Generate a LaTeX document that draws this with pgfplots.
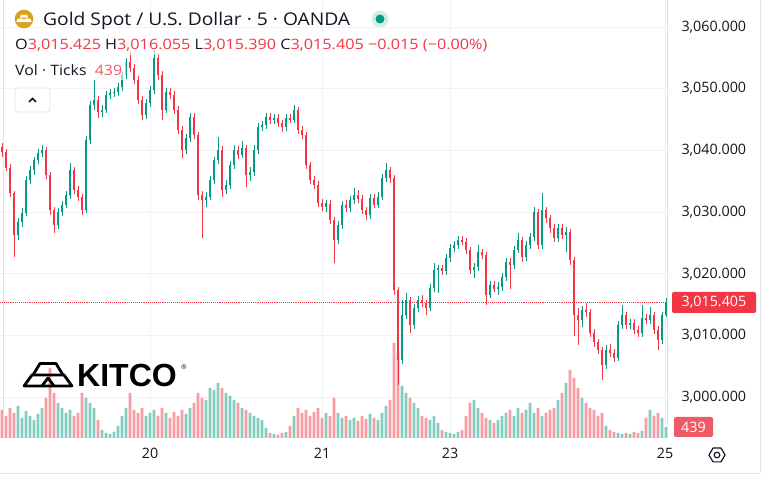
\documentclass[border=0pt]{standalone}
\usepackage{graphicx}
\usepackage{pgfplots}
\pgfplotsset{compat=1.18}
\usepackage{pgfplotstable}
\usepackage{fontspec}
\setmainfont{Open Sans}
\newfontfamily\logofont{Liberation Sans}
\definecolor{upc}{HTML}{089981}
\definecolor{dnc}{HTML}{F23645}
\definecolor{upv}{HTML}{84CCC0}
\definecolor{dnv}{HTML}{F89BA2}
\definecolor{gridc}{HTML}{F0F3FA}
\definecolor{txt}{HTML}{131722}
\definecolor{bordc}{HTML}{E0E3EB}
\definecolor{goldc}{HTML}{D9A11E}
\definecolor{vollab}{HTML}{F05A66}

\pgfplotstableread{
x o c h l v
2 3040.5 3039.7 3041.2 3039.0 1120
6 3039.7 3037.2 3040.2 3036.6 880
10 3037.2 3033.1 3037.8 3032.5 1200
14 3033.1 3026.3 3033.5 3022.7 1000
18 3026.3 3028.4 3029.0 3025.5 1280
22 3028.4 3029.9 3030.6 3027.6 800
26 3029.9 3035.2 3035.9 3029.3 1080
30 3035.2 3036.8 3037.5 3034.6 880
34 3036.8 3038.4 3039.0 3036.1 720
38 3038.4 3039.6 3040.2 3037.8 960
42 3039.6 3040.1 3040.9 3038.9 1200
46 3040.1 3036.0 3040.6 3035.3 1600
50 3036.0 3030.3 3036.5 3029.6 2800
54 3030.3 3027.9 3030.9 3026.6 1800
58 3027.9 3030.0 3030.7 3027.2 1400
62 3030.0 3031.2 3031.8 3029.4 1200
66 3031.2 3032.8 3033.4 3030.6 1000
70 3032.8 3036.8 3038.0 3032.2 1120
74 3036.8 3033.6 3037.3 3033.0 880
78 3033.6 3032.5 3034.2 3031.8 1000
82 3032.5 3030.3 3033.0 3029.5 1800
86 3030.3 3041.7 3042.3 3029.8 1600
90 3041.7 3047.4 3048.0 3041.0 1400
94 3047.4 3048.2 3051.4 3046.6 1200
98 3048.2 3046.2 3048.8 3045.3 720
102 3046.2 3046.6 3047.3 3045.5 320
106 3046.6 3049.0 3049.6 3046.0 200
110 3049.0 3049.3 3049.9 3048.4 160
114 3049.3 3049.5 3050.1 3048.7 240
118 3049.5 3050.3 3051.0 3048.9 480
122 3050.3 3052.2 3052.9 3049.7 880
126 3052.2 3054.3 3055.0 3051.6 1200
130 3054.3 3053.4 3056.0 3052.7 1800
134 3053.4 3051.4 3054.0 3050.8 1120
138 3051.4 3048.2 3052.0 3047.5 1000
142 3048.2 3045.7 3048.8 3045.0 1200
146 3045.7 3047.7 3048.4 3045.1 880
150 3047.7 3049.8 3050.4 3047.1 1000
154 3049.8 3055.0 3056.3 3049.2 1120
158 3055.0 3052.2 3055.6 3051.5 880
162 3052.2 3046.6 3052.8 3044.9 1200
166 3046.6 3049.5 3050.1 3046.0 1000
170 3049.5 3049.0 3050.2 3048.3 800
174 3049.0 3046.6 3049.6 3045.9 1040
178 3046.6 3043.3 3047.2 3042.6 880
182 3043.3 3040.1 3043.9 3038.8 1120
186 3040.1 3042.0 3042.7 3039.5 960
190 3042.0 3045.4 3046.0 3041.4 1200
194 3045.4 3042.5 3046.0 3041.9 1400
198 3042.5 3032.8 3043.0 3031.9 1800
202 3032.8 3032.0 3033.5 3025.8 1600
206 3032.0 3032.5 3033.2 3030.8 1520
210 3032.5 3035.2 3035.9 3031.9 2000
214 3035.2 3038.4 3039.0 3034.6 1920
218 3038.4 3040.1 3042.2 3037.8 2200
222 3040.1 3033.6 3040.7 3032.4 2000
226 3033.6 3034.4 3035.2 3032.9 1800
230 3034.4 3037.6 3038.3 3033.8 1680
234 3037.6 3040.1 3040.8 3037.0 1520
238 3040.1 3039.3 3040.8 3038.6 1400
242 3039.3 3040.4 3041.6 3038.7 1200
246 3040.4 3036.0 3040.9 3034.1 1120
250 3036.0 3036.5 3037.3 3035.0 1000
254 3036.5 3040.1 3040.8 3035.9 880
258 3040.1 3043.8 3044.5 3039.5 800
262 3043.8 3044.1 3044.8 3043.1 720
266 3044.1 3045.4 3046.0 3043.5 400
270 3045.4 3044.9 3046.0 3044.3 200
274 3044.9 3045.3 3045.9 3044.3 160
278 3045.3 3044.4 3045.9 3043.8 120
282 3044.4 3043.8 3045.0 3043.0 200
286 3043.8 3045.3 3045.9 3043.2 240
290 3045.3 3045.0 3045.9 3044.5 480
294 3045.0 3046.6 3047.4 3044.5 880
298 3046.6 3043.3 3047.1 3042.7 1200
302 3043.3 3042.5 3043.9 3041.8 1000
306 3042.5 3037.6 3043.0 3037.0 1120
310 3037.6 3035.2 3038.2 3034.5 880
314 3035.2 3034.4 3035.8 3033.7 1040
318 3034.4 3031.5 3035.0 3030.8 1200
322 3031.5 3030.8 3032.1 3030.1 800
326 3030.8 3031.4 3032.0 3030.1 1000
330 3031.4 3028.7 3032.0 3028.0 880
334 3028.7 3025.5 3029.2 3021.8 1600
338 3025.5 3027.9 3028.5 3024.8 1000
342 3027.9 3031.2 3031.8 3027.3 800
346 3031.2 3030.7 3031.9 3030.0 880
350 3030.7 3032.0 3032.7 3030.1 720
354 3032.0 3032.8 3033.9 3031.4 800
358 3032.8 3032.2 3033.6 3031.5 680
362 3032.2 3030.3 3032.8 3029.7 880
366 3030.3 3029.5 3030.9 3028.8 760
370 3029.5 3032.3 3032.9 3028.9 960
374 3032.3 3031.2 3032.9 3030.6 800
378 3031.2 3032.5 3033.2 3030.6 720
382 3032.5 3035.5 3036.1 3031.9 1000
386 3035.5 3036.8 3038.0 3034.9 1280
390 3036.8 3035.5 3037.4 3034.7 1520
394 3035.5 3017.4 3036.0 3016.6 3800
398 3017.4 3006.0 3017.9 3002.0 3400
402 3006.0 3013.3 3015.8 3005.4 2080
406 3013.3 3015.8 3016.9 3012.7 1800
410 3015.8 3011.7 3016.3 3010.4 1600
414 3011.7 3014.5 3015.1 3011.1 1400
418 3014.5 3015.8 3016.4 3013.9 1200
422 3015.8 3015.2 3016.5 3014.6 880
426 3015.2 3014.5 3015.8 3013.4 800
430 3014.5 3017.7 3018.3 3013.9 720
434 3017.7 3020.6 3021.7 3017.1 880
438 3020.6 3020.9 3021.5 3016.9 600
442 3020.9 3020.4 3021.5 3019.8 320
446 3020.4 3022.6 3023.2 3019.8 240
450 3022.6 3024.2 3024.8 3022.0 200
454 3024.2 3024.7 3025.3 3023.6 160
458 3024.7 3025.5 3026.2 3024.1 240
462 3025.5 3025.2 3026.1 3024.6 320
466 3025.2 3023.9 3025.8 3023.3 880
470 3023.9 3020.6 3024.4 3019.9 1400
474 3020.6 3021.1 3021.7 3019.3 1520
478 3021.1 3023.5 3024.6 3020.5 1200
482 3023.5 3023.1 3024.1 3022.4 1000
486 3023.1 3016.6 3023.6 3014.9 800
490 3016.6 3018.2 3018.8 3016.0 720
494 3018.2 3017.6 3018.9 3017.0 600
498 3017.6 3017.9 3018.6 3016.5 720
502 3017.9 3019.5 3020.1 3017.3 880
506 3019.5 3021.9 3022.5 3018.9 1000
510 3021.9 3021.4 3022.5 3017.5 1120
514 3021.4 3023.9 3024.5 3020.8 880
518 3023.9 3025.5 3026.6 3023.3 1200
522 3025.5 3022.7 3026.0 3022.0 1000
526 3022.7 3024.7 3025.3 3022.1 1120
530 3024.7 3026.0 3026.7 3024.1 1400
534 3026.0 3030.0 3030.8 3025.4 1000
538 3030.0 3024.7 3030.5 3024.0 1200
542 3024.7 3030.3 3033.1 3024.1 880
546 3030.3 3029.0 3030.9 3028.3 1000
550 3029.0 3027.4 3029.6 3026.7 1120
554 3027.4 3025.8 3028.0 3025.1 1200
558 3025.8 3027.4 3028.1 3025.2 1520
562 3027.4 3026.3 3028.0 3025.6 1800
566 3026.3 3026.8 3027.6 3023.5 2200
570 3026.8 3022.2 3027.3 3021.5 2720
574 3022.2 3013.3 3022.7 3010.0 2400
578 3013.3 3012.5 3014.5 3008.5 2000
582 3012.5 3014.1 3014.8 3011.3 1600
586 3014.1 3013.8 3015.2 3013.0 1400
590 3013.8 3010.4 3014.3 3009.7 1200
594 3010.4 3008.9 3011.0 3008.2 1120
598 3008.9 3007.7 3009.5 3007.0 880
602 3007.7 3005.2 3008.2 3002.8 1000
606 3005.2 3007.7 3008.4 3004.6 480
610 3007.7 3007.2 3008.6 3006.5 320
614 3007.2 3006.4 3007.9 3005.7 240
618 3006.4 3011.7 3012.4 3005.8 200
622 3011.7 3013.3 3014.9 3011.1 160
626 3013.3 3011.7 3013.9 3011.0 200
630 3011.7 3012.0 3012.7 3011.1 160
634 3012.0 3010.9 3012.6 3010.2 240
638 3010.9 3010.4 3011.5 3009.7 200
642 3010.4 3012.8 3015.0 3009.8 280
646 3012.8 3012.5 3013.5 3011.8 800
650 3012.5 3013.3 3014.6 3011.9 1120
654 3013.3 3010.9 3013.9 3010.2 880
658 3010.9 3009.3 3011.5 3007.7 1000
662 3009.3 3013.3 3013.9 3008.7 800
666 3013.3 3015.405 3016.055 3013.0 439
}\candles

\pgfplotsset{
  chartbase/.style={at={(0pt,40pt)}, anchor=south west, width=667pt, height=438pt,
    scale only axis, xmin=0, xmax=667},
  pricey/.style={ymin=2993.39, ymax=3064.38},
  candle/.style={draw=none, mark=none, forget plot, error bars/.cd, y dir=both, y explicit, error mark=none,
    error bar style={#1}},
}

\begin{document}
\begin{tikzpicture}[x=1pt,y=1pt]
\useasboundingbox (0,0) rectangle (775,478);
\fill[white] (0,0) rectangle (775,478);

% grid + tick labels
\begin{axis}[chartbase, pricey,
  axis line style={draw=none}, major tick length=0pt,
  xtick={150,322,450,665}, xticklabels={20,21,23,25},
  ytick={3000,3010,3020,3030,3040,3050,3060},
  grid=major, major grid style={draw=gridc, line width=0.8pt},
  yticklabel pos=right, scaled y ticks=false,
  yticklabel style={font=\fontsize{14.3}{16}\selectfont, color=txt, anchor=west, xshift=11pt,
    /pgf/number format/.cd, fixed, fixed zerofill, precision=3, 1000 sep={,}, assume math mode=true},
  xticklabel style={font=\fontsize{14.3}{16}\selectfont, color=txt, yshift=-7pt},
]
\addplot[draw=none] coordinates {(0,3000) (667,3000)};
\end{axis}

% volume
\begin{axis}[chartbase, ymin=0, ymax=17520, hide axis]
\addplot[ybar, bar width=2.8pt, bar shift=0pt, fill=upv, draw=none]
  table[x=x, y expr={\thisrow{c}<\thisrow{o} ? 0 : \thisrow{v}}]{\candles};
\addplot[ybar, bar width=2.8pt, bar shift=0pt, fill=dnv, draw=none]
  table[x=x, y expr={\thisrow{c}<\thisrow{o} ? \thisrow{v} : 0}]{\candles};
\end{axis}

% candles
\begin{axis}[chartbase, pricey, hide axis]
\addplot[dnc, densely dotted, line width=0.9pt] coordinates {(0,3015.405) (667,3015.405)};
\addplot[candle={draw=upc, line width=0.8pt}]
  table[x=x, y expr={(\thisrow{h}+\thisrow{l})/2},
    y error expr={\thisrow{c}<\thisrow{o} ? 0 : (\thisrow{h}-\thisrow{l})/2}]{\candles};
\addplot[candle={draw=dnc, line width=0.8pt}]
  table[x=x, y expr={(\thisrow{h}+\thisrow{l})/2},
    y error expr={\thisrow{c}<\thisrow{o} ? (\thisrow{h}-\thisrow{l})/2 : 0}]{\candles};
\addplot[candle={draw=upc, line width=2.8pt}]
  table[x=x, y expr={(\thisrow{o}+\thisrow{c})/2},
    y error expr={\thisrow{c}<\thisrow{o} ? 0 : max((\thisrow{c}-\thisrow{o})/2,0.08)}]{\candles};
\addplot[candle={draw=dnc, line width=2.8pt}]
  table[x=x, y expr={(\thisrow{o}+\thisrow{c})/2},
    y error expr={\thisrow{c}<\thisrow{o} ? max((\thisrow{o}-\thisrow{c})/2,0.08) : 0}]{\candles};
\end{axis}

% borders
\draw[bordc, line width=0.8pt] (3,40) -- (3,478);
\draw[bordc, line width=0.8pt] (667,40) -- (667,478);
\draw[bordc, line width=0.8pt] (760,5) -- (760,478);
\draw[bordc, line width=0.8pt] (0,5) -- (760,5);

% header
\fill[white, opacity=0.6] (12,423) rectangle (492,441);
\fill[white, opacity=0.6] (12,398) rectangle (126,416);
\fill[goldc] (24,459) circle (9.3);
\fill[white] (21,463) -- (27,463) -- (28.2,460.3) -- (19.8,460.3) -- cycle;
\fill[white] (17.5,459.3) -- (23.2,459.3) -- (24.2,455.8) -- (16.3,455.8) -- cycle;
\fill[white] (24.8,459.3) -- (30.5,459.3) -- (31.7,455.8) -- (23.8,455.8) -- cycle;
\node[anchor=base west, inner sep=0pt, text=txt, font=\fontsize{17.5}{20}\selectfont] at (43,452) {\scalebox{1.1}[1]{Gold Spot / U.S. Dollar · 5 · OANDA}};
\fill[upc!18] (380,459) circle (8.5);
\fill[upc] (380,459) circle (4.5);
\node[anchor=base west, inner sep=0pt, font=\fontsize{14.3}{16}\selectfont] at (15,428.7)
  {\scalebox{1.134}[1]{\textcolor{txt}{O}\textcolor{dnc}{3,015.425} \textcolor{txt}{H}\textcolor{dnc}{3,016.055} \textcolor{txt}{L}\textcolor{dnc}{3,015.390} \textcolor{txt}{C}\textcolor{dnc}{3,015.405} \textcolor{dnc}{−0.015 (−0.00\%)}}};
\node[anchor=base west, inner sep=0pt, font=\fontsize{14.3}{16}\selectfont] at (15,402)
  {\scalebox{1.11}[1]{\textcolor{txt}{Vol · Ticks}\ \ \textcolor{vollab}{439}}};
\draw[bordc, line width=0.8pt, fill=white, rounded corners=3pt] (15,366) rectangle (50,390);
\draw[txt, line width=1.5pt] (29,376) -- (32.5,379.5) -- (36,376);

% KITCO logo
\begin{scope}[line width=2.8pt, line join=round]
\draw (24,92) -- (32,103) -- (64,103) -- (72,92) -- cycle;
\draw (33,103) -- (40,114.5) -- (56,114.5) -- (63,103);
\draw (42,92) -- (48,100) -- (54,92);
\end{scope}
\node[anchor=base west, inner sep=0pt, font=\logofont\bfseries\fontsize{32}{34}\selectfont] at (77,91) {KITCO};
\node[anchor=center, inner sep=0pt, font=\logofont\fontsize{7}{8}\selectfont] at (184,111) {®};

% price labels
\fill[dnc, rounded corners=2pt] (672,165) rectangle (756,186);
\node[text=white, font=\fontsize{14.3}{16}\selectfont] at (714,175.5) {3,015.405};
\fill[vollab, rounded corners=2pt] (674,41) rectangle (713,61);
\node[text=white, font=\fontsize{14.3}{16}\selectfont] at (693.5,51) {439};

% settings icon
\draw[txt, line width=1.2pt, line join=round] (725,23) -- (721,29.9) -- (713,29.9) -- (709,23) -- (713,16.1) -- (721,16.1) -- cycle;
\draw[txt, line width=1.2pt] (717,23) circle (2.8);
\end{tikzpicture}
\end{document}
